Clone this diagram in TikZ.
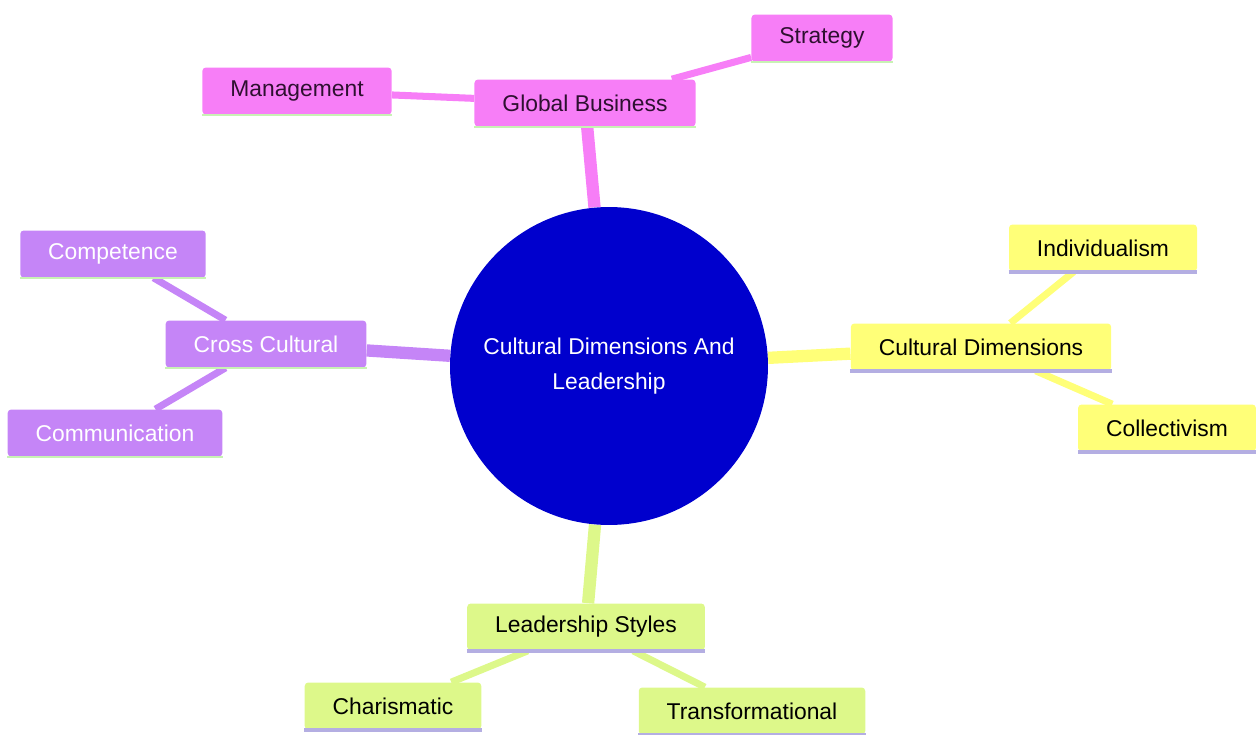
\documentclass[tikz,border=0pt]{standalone}
\usepackage{fontspec}
\setmainfont{Liberation Sans}
\usetikzlibrary{backgrounds}

\definecolor{pinkbox}{HTML}{F77EF7}
\definecolor{purplebox}{HTML}{C585F7}
\definecolor{yellowbox}{HTML}{FFFF78}
\definecolor{limebox}{HTML}{DDF88A}
\definecolor{coreblue}{HTML}{0000CD}
\definecolor{greenline}{HTML}{C8F2B4}
\definecolor{lavline}{HTML}{B4AEE2}
\definecolor{darktext}{HTML}{2E1030}

\tikzset{
  topic/.style={rectangle, rounded corners=2pt, inner xsep=0.56cm, minimum height=0.94cm, font=\fontsize{13}{15}\selectfont},
  pinktopic/.style={topic, fill=pinkbox, text=darktext},
  purpletopic/.style={topic, fill=purplebox, text=white},
  yellowtopic/.style={topic, fill=yellowbox, text=black},
  limetopic/.style={topic, fill=limebox, text=black},
  mainlink/.style={line width=7pt},
  sublink/.style={line width=4pt},
}

\begin{document}
\begin{tikzpicture}[x=0.02cm, y=-0.02cm]
	\useasboundingbox (0, 0) rectangle (1258, 734);

	% 中心
	\node[circle, fill=coreblue, text=white, minimum size=6.36cm, align=center, font=\fontsize{13}{19.5}\selectfont] (core) at (609, 366) {Cultural Dimensions And\\Leadership};

	% 枝
	\node[pinktopic] (global) at (585, 103) {Global Business};
	\node[pinktopic] (manage) at (297, 91) {Management};
	\node[pinktopic] (strategy) at (822, 38) {Strategy};

	\node[purpletopic] (cross) at (266, 344) {Cross Cultural};
	\node[purpletopic] (compet) at (113, 254) {Competence};
	\node[purpletopic] (commun) at (115, 433) {Communication};

	\node[yellowtopic] (dims) at (981, 347) {Cultural Dimensions};
	\node[yellowtopic] (indiv) at (1103, 248) {Individualism};
	\node[yellowtopic] (collect) at (1167, 428) {Collectivism};

	\node[limetopic] (styles) at (586, 627) {Leadership Styles};
	\node[limetopic] (charis) at (393, 706) {Charismatic};
	\node[limetopic] (transf) at (752, 711) {Transformational};

	% 下線
	\foreach \n in {global, manage, strategy, cross, compet, commun}
		\draw[greenline, line width=1.5pt] (\n.south west) -- (\n.south east);
	\foreach \n in {dims, indiv, collect, styles, charis, transf}
		\draw[lavline, line width=2.2pt] (\n.south west) -- (\n.south east);

	% 線を引く
	\begin{scope}[on background layer]
		\draw[mainlink, pinkbox] (core) -- (global);
		\draw[sublink, pinkbox] (global) -- (manage);
		\draw[sublink, pinkbox] (global) -- (strategy);

		\draw[mainlink, purplebox] (core) -- (cross);
		\draw[sublink, purplebox] (cross) -- (compet);
		\draw[sublink, purplebox] (cross) -- (commun);

		\draw[mainlink, yellowbox] (core) -- (dims);
		\draw[sublink, yellowbox] (dims) -- (indiv);
		\draw[sublink, yellowbox] (dims) -- (collect);

		\draw[mainlink, limebox] (core) -- (styles);
		\draw[sublink, limebox] (styles) -- (charis);
		\draw[sublink, limebox] (styles) -- (transf);
	\end{scope}

\end{tikzpicture}
\end{document}
